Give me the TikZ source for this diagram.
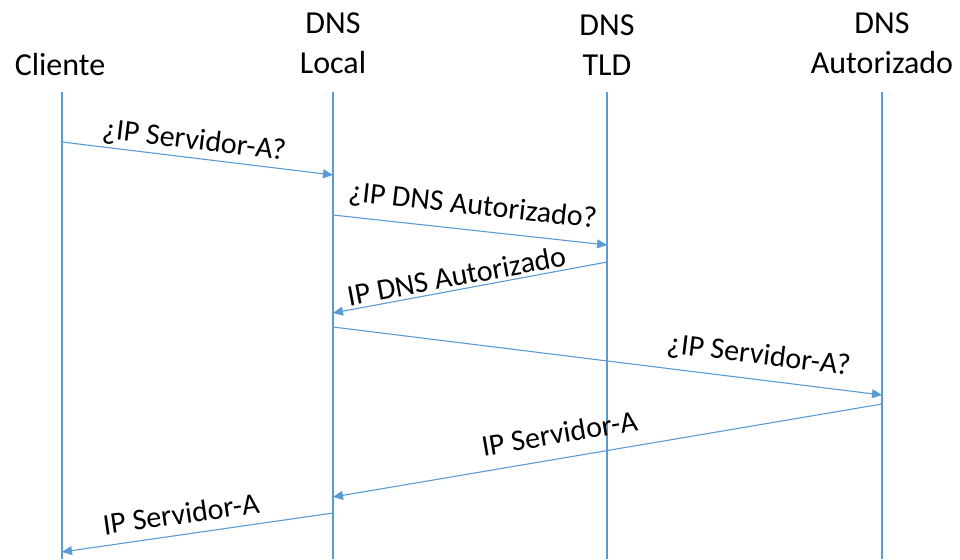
\documentclass[tikz,border=0pt]{standalone}
\usepackage{fontspec}
\setmainfont{Carlito}
\usetikzlibrary{arrows.meta}
\definecolor{lineblue}{RGB}{91,155,213}
\tikzset{
  lifeline/.style={lineblue, line width=1.1pt},
  message/.style={lineblue, line width=1.1pt, -{Triangle[length=10pt,width=9pt]}},
  actor/.style={anchor=south, align=center, inner sep=0pt, font=\fontsize{32}{40}\selectfont},
  msglabel/.style={sloped, text=black, inner sep=0pt, font=\fontsize{30}{36}\selectfont},
}
\begin{document}
\begin{tikzpicture}[x=1pt,y=-1pt]
\useasboundingbox (0,0) rectangle (960,559);

\node[actor] (cli) at (60,76) {Cliente};
\node[actor] (loc) at (333,74) {DNS\\Local};
\node[actor] (tld) at (607,76) {DNS\\TLD};
\node[actor] (aut) at (882,74) {DNS\\Autorizado};

\coordinate (cliT) at (62,92);  \coordinate (cliB) at (62,559);
\coordinate (locT) at (333,92); \coordinate (locB) at (333,559);
\coordinate (tldT) at (607,92); \coordinate (tldB) at (607,559);
\coordinate (autT) at (882,92); \coordinate (autB) at (882,559);
\foreach \l in {cli,loc,tld,aut}
  \draw[lifeline] (\l T) -- (\l B);

\coordinate (m1a) at (cliT |- 0,142); \coordinate (m1b) at (locT |- 0,175);
\coordinate (m2a) at (locT |- 0,215); \coordinate (m2b) at (tldT |- 0,245);
\coordinate (m3a) at (tldT |- 0,262); \coordinate (m3b) at (locT |- 0,313);
\coordinate (m4a) at (locT |- 0,327); \coordinate (m4b) at (autT |- 0,395);
\coordinate (m5a) at (autT |- 0,404); \coordinate (m5b) at (locT |- 0,497);
\coordinate (m6a) at (locT |- 0,513); \coordinate (m6b) at (cliT |- 0,552);

\draw[message] (m1a) -- node[msglabel, above=3pt, pos=0.48] {¿IP Servidor-A?} (m1b);
\draw[message] (m2a) -- node[msglabel, above=10pt, pos=0.50] {¿IP DNS Autorizado?} (m2b);
\draw[message] (m3a) -- node[msglabel, above=3pt, pos=0.54] {IP DNS Autorizado} (m3b);
\draw[message] (m4a) -- node[msglabel, above=10pt, pos=0.77] {¿IP Servidor-A?} (m4b);
\draw[message] (m5a) -- node[msglabel, above=14pt, pos=0.58] {IP Servidor-A} (m5b);
\draw[message] (m6a) -- node[msglabel, above=10pt, pos=0.55] {IP Servidor-A} (m6b);
\end{tikzpicture}
\end{document}
